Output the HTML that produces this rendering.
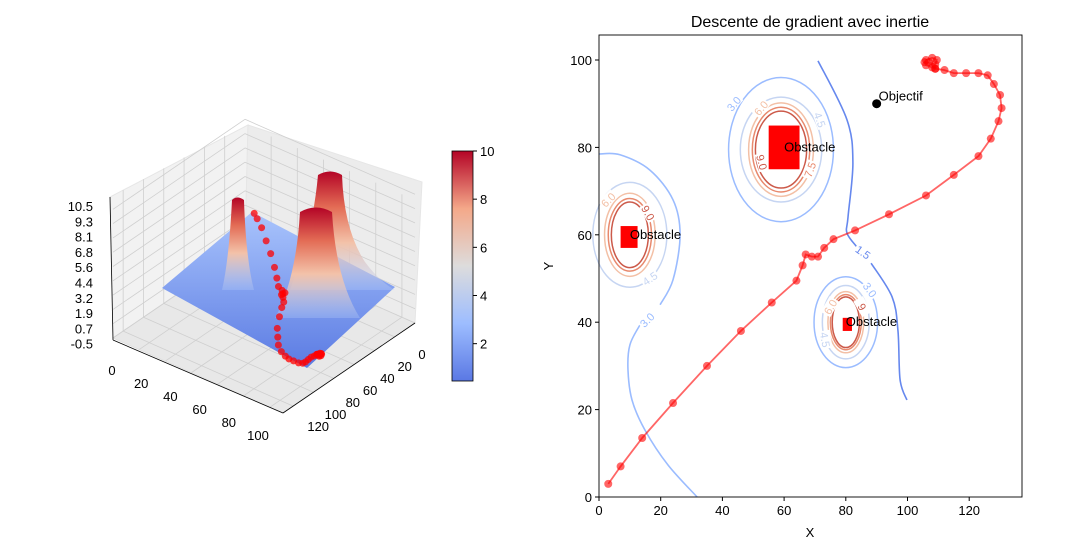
<!DOCTYPE html>
<html><head><meta charset="utf-8"><style>
body{margin:0;background:#fff}
svg{display:block;font-family:"Liberation Sans","DejaVu Sans",sans-serif}
</style></head><body>
<svg id="s" width="1074" height="550" viewBox="0 0 1074 550" xmlns="http://www.w3.org/2000/svg">
<defs>
<linearGradient id="cw" x1="0" y1="1" x2="0" y2="0">
<stop offset="0" stop-color="#5a78e4"/><stop offset="0.25" stop-color="#9dbdff"/><stop offset="0.5" stop-color="#dddcdc"/><stop offset="0.75" stop-color="#f4a889"/><stop offset="1" stop-color="#b40426"/></linearGradient>
<linearGradient id="surf" x1="0" y1="0" x2="0" y2="1">
<stop offset="0" stop-color="#a9c4fc"/><stop offset="1" stop-color="#5b7be3"/></linearGradient>
<linearGradient id="peak" x1="0" y1="0" x2="0" y2="1">
<stop offset="0" stop-color="#b40426"/><stop offset="0.3" stop-color="#e36c55"/><stop offset="0.6" stop-color="#f3c2a9"/><stop offset="1" stop-color="#b8cff8" stop-opacity="0.3"/></linearGradient>
</defs>
<g id="left3d">
<polygon points="245,248 113,338 110,197 248,125" fill="#f2f2f2" stroke="#e6e6e6"/>
<polygon points="245,248 415,323 422,182 248,125" fill="#ececec" stroke="#e6e6e6"/>
<polygon points="245,248 113,338 283,413 415,323" fill="#e8e8e8" stroke="#e0e0e0"/>
<g id="grid3d" stroke="#cfcfcf" stroke-width="0.8" fill="none"></g>
<polygon points="252,212 162,288 307,368 395,287" fill="url(#surf)"/>
<path d="M222,290 Q229,260 232,200 Q237,195 244,200 Q246,260 254,290 Z" fill="url(#peak)"/>
<path d="M300,262 Q314,220 318,175 Q330,168 342,175 Q344,230 365,262 Q380,282 395,290 L290,290 Z" fill="url(#peak)"/>
<path d="M275,318 Q296,280 300,212 Q316,203 332,212 Q336,280 360,318 Z" fill="url(#peak)"/>
<g id="dots3d"></g>
<line x1="110" y1="197" x2="113" y2="340" stroke="#000" stroke-width="0.8"/>
<line x1="113" y1="340" x2="283" y2="413" stroke="#000" stroke-width="0.8"/>
<line x1="283" y1="413" x2="415" y2="323" stroke="#000" stroke-width="0.8"/>
<g id="ticks3d" font-size="13" fill="#000"></g>
<rect x="452" y="151" width="21" height="230" fill="url(#cw)" stroke="#000" stroke-width="0.8"/>
<g id="cbticks" font-size="13"></g>
</g>
<g id="right">
<text x="810" y="27" font-size="16" text-anchor="middle">Descente de gradient avec inertie</text>
<g id="plot"></g>
<rect x="599" y="35" width="423" height="462" fill="none" stroke="#000" stroke-width="0.9"/>
<g id="axes2" font-size="13"></g>
<text x="810" y="537" font-size="13" text-anchor="middle">X</text>
<text x="553" y="266" font-size="13" text-anchor="middle" transform="rotate(-90 553 266)">Y</text>
</g>
</svg>
<script>
const trajX=[3,7,14,24,35,46,56,64,66,67,69,71,73,76,83,94,106,115,123,127,129.5,130.5,130,128,126,123,119,115,112,109,108,106,105.5,106,108,109.5,109,107,109];
const trajY=[3,7,13.5,21.5,30,38,44.5,49.5,53,55.5,55,55,57,59,61,64.7,69,73.7,78,82,86,89,92,94.5,96.5,97,97,97,97.7,98,98.3,98.8,99.5,100,100.5,100,99,99.5,98];
const obstacleX=[55,7,79];const obstacleY=[75,57,38];const obstacleW=[10,5.5,3];const obstacleH=[10,5,3];
const obstacleLabelX=[60,10,80];const obstacleLabelY=[80,60,40];
const goalX=[90];const goalY=[90];
const ringCX=[59,59,59,59,59,10,10,10,10,80,80,80,80,80];
const ringCY=[79.5,79.5,79.5,79.5,79.5,60,60,60,60,40,40,40,40,40];
const ringRX=[17,13.2,10.5,9.3,8.3,12,8.2,7,6,10.3,7.6,5.8,5,4.4];
const ringRY=[16.5,12,10.7,9.7,8.8,12,9.5,8.3,7.5,10.4,8.4,7,6.3,5.8];
const ringLevel=[3,4.5,6,7.5,9,4.5,6,7.5,9,3,4.5,6,7.5,9];
const line15X=[71,80.4,82.3,80.7,80.4,83.6,null,88.2,95,96.9,97.6,99.8];
const line15Y=[99.8,86.3,76.4,64,60.4,57.2,null,53.5,45.8,38.2,26.8,22.2];
const line30X=[0,6.8,16.5,24,26.3,24,19.8,null,13.3,10,9.4,10.7,14.9,22.4,31.8];
const line30Y=[78.5,78.3,74.8,68,60,49.7,44,null,39.4,34.8,29,22.2,15.3,7.3,0];
const xTicks=[0,20,40,60,80,100,120];const yTicks=[0,20,40,60,80,100];
const zTickLabels=["10.5","9.3","8.1","6.8","5.6","4.4","3.2","1.9","0.7","-0.5"];
const x3Labels=["0","20","40","60","80","100","120"];
const y3Labels=["0","20","40","60","80","100"];
const cbTicks=[2,4,6,8,10];
const traj3Z=[2.2,2.2,2.2,2.1,2.1,2,2,2,2,2,2,2,2,1.9,1.9,1.9,1.8,1.8,1.8,1.7,1.7,1.7,1.7,1.6,1.6,1.6,1.6,1.6,1.6,1.6,1.6,1.6,1.6,1.6,1.6,1.6,1.6,1.6,1.6];
const clX=[43.7,52.5,71.6,52.8,68.4,3,15.9,16.5,15.6,87.8,85.3,75,73.3,85.6];
const clY=[90,89,86.3,76.6,74.9,68,65,50,40.5,47.4,43.5,43.5,36,56];
const clT=["3.0","6.0","4.5","9.0","7.5","6.0","9.0","4.5","3.0","3.0","9","6.0","4.5","1.5"];
const clC=[3,6,4.5,9,7.5,6,9,4.5,3,3,9,6,4.5,1.5];
const clR=[-50,-50,70,75,-70,-45,60,-35,-45,55,60,-60,80,35];
const NS="http://www.w3.org/2000/svg";
function mk(t,a,p){const e=document.createElementNS(NS,t);for(const k in a)e.setAttribute(k,a[k]);(p||document.getElementById('plot')).appendChild(e);return e;}
const sx=v=>599+v*3.085, sy=v=>497-v*4.37;
const colors={1.5:"#6688ee",3:"#9bbcff",4.5:"#c6d5f2",6:"#f3c0a6",7.5:"#e8896d",9:"#cc5a4a"};
for(let i=0;i<ringCX.length;i++){const e=mk('ellipse',{cx:sx(ringCX[i]),cy:sy(ringCY[i]),rx:ringRX[i]*3.085,ry:ringRY[i]*4.37,fill:'none',stroke:colors[ringLevel[i]],'stroke-width':1.5});

}
function smooth(pts){if(pts.length<2)return '';let d='M'+pts[0][0].toFixed(1)+','+pts[0][1].toFixed(1);
for(let i=0;i<pts.length-1;i++){const p0=pts[i-1]||pts[i],p1=pts[i],p2=pts[i+1],p3=pts[i+2]||p2;
const c1=[p1[0]+(p2[0]-p0[0])/6,p1[1]+(p2[1]-p0[1])/6],c2=[p2[0]-(p3[0]-p1[0])/6,p2[1]-(p3[1]-p1[1])/6];
d+='C'+c1.map(v=>v.toFixed(1))+' '+c2.map(v=>v.toFixed(1))+' '+p2.map(v=>v.toFixed(1));}return d;}
function poly(xs,ys,col,name){let segs=[[]];for(let i=0;i<xs.length;i++){if(xs[i]===null){segs.push([]);continue;}segs[segs.length-1].push([sx(xs[i]),sy(ys[i])]);}
const e=mk('path',{d:segs.map(smooth).join(''),fill:'none',stroke:col,'stroke-width':1.6});

}
poly(line15X,line15Y,colors[1.5],'contour-1.5');
poly(line30X,line30Y,colors[3],'contour-3.0');
for(let i=0;i<clX.length;i++){const X=sx(clX[i]),Y=sy(clY[i]);
const bg=mk('rect',{x:X-9,y:Y-6,width:18,height:11,fill:'#fff',transform:`rotate(${clR[i]} ${X} ${Y})`});


const t=mk('text',{x:X,y:Y+4,'font-size':11,fill:colors[clC[i]],'text-anchor':'middle',transform:`rotate(${clR[i]} ${X} ${Y})`});t.textContent=clT[i];

}
for(let i=0;i<obstacleX.length;i++){const r=mk('rect',{x:sx(obstacleX[i]),y:sy(obstacleY[i]+obstacleH[i]),width:obstacleW[i]*3.085,height:obstacleH[i]*4.37,fill:'#ff0000'});

}
let d='';for(let i=0;i<trajX.length;i++)d+=(i?'L':'M')+sx(trajX[i]).toFixed(1)+','+sy(trajY[i]).toFixed(1);
const tl=mk('path',{d:d,fill:'none',stroke:'rgba(255,0,0,0.6)','stroke-width':1.8});


for(let i=0;i<trajX.length;i++){const c=mk('circle',{cx:sx(trajX[i]),cy:sy(trajY[i]),r:4,fill:'rgba(255,0,0,0.6)'});

}
for(let i=0;i<obstacleX.length;i++){const t=mk('text',{x:sx(obstacleLabelX[i]),y:sy(obstacleLabelY[i])+4,'font-size':13});t.textContent='Obstacle';

}
const g=mk('circle',{cx:sx(goalX[0]),cy:sy(goalY[0]),r:4.5,fill:'#000'});


const gt=mk('text',{x:sx(goalX[0])+2,y:sy(goalY[0])-3,'font-size':13});gt.textContent='Objectif';


const ax=document.getElementById('axes2');
xTicks.forEach(v=>{mk('line',{x1:sx(v),x2:sx(v),y1:497,y2:501,stroke:'#000'},ax);const t=mk('text',{x:sx(v),y:515,'text-anchor':'middle'},ax);t.textContent=v;

});
yTicks.forEach(v=>{mk('line',{x1:595,x2:599,y1:sy(v),y2:sy(v),stroke:'#000'},ax);const t=mk('text',{x:592,y:sy(v)+5,'text-anchor':'end'},ax);t.textContent=v;

});
const gr=document.getElementById('grid3d');
const B=[245,248],L=[113,338],R=[415,323],H=-123;
for(let k=1;k<=6;k++){const f=k/6.5;
const pl=[B[0]+(L[0]-B[0])*f,B[1]+(L[1]-B[1])*f];mk('line',{x1:pl[0],y1:pl[1],x2:pl[0],y2:pl[1]+H+(k*-3)},gr);
const pr=[B[0]+(R[0]-B[0])*f,B[1]+(R[1]-B[1])*f];mk('line',{x1:pr[0],y1:pr[1],x2:pr[0],y2:pr[1]+H},gr);
mk('line',{x1:pl[0],y1:pl[1],x2:pl[0]+(R[0]-B[0]),y2:pl[1]+(R[1]-B[1])},gr);
mk('line',{x1:pr[0],y1:pr[1],x2:pr[0]+(L[0]-B[0]),y2:pr[1]+(L[1]-B[1])},gr);}
for(let k=0;k<10;k++){const dy=-k*14.3;mk('line',{x1:B[0],y1:B[1]+dy,x2:L[0],y2:L[1]+dy},gr);mk('line',{x1:B[0],y1:B[1]+dy,x2:R[0],y2:R[1]+dy},gr);}
function p3(X,Y,Z){return[252+X/130*(-90)+Y/100*143,212+X/130*76+Y/100*75-(Z-2)*13];}
const dg=document.getElementById('dots3d');
for(let i=0;i<trajX.length;i++){const p=p3(trajX[i],trajY[i],traj3Z[i]);const c=mk('circle',{cx:p[0],cy:p[1],r:3.5,fill:'rgba(255,0,0,0.75)'},dg);

}
const tg=document.getElementById('ticks3d');
zTickLabels.forEach((s,i)=>{const t=mk('text',{x:93,y:211+i*15.3,'text-anchor':'end'},tg);t.textContent=s;

});
y3Labels.forEach((s,i)=>{const t=mk('text',{x:112+i*29.2,y:375+i*13,'text-anchor':'middle'},tg);t.textContent=s;

});
x3Labels.forEach((s,i)=>{const t=mk('text',{x:422-i*17.3,y:359+i*12,'text-anchor':'middle'},tg);t.textContent=s;

});
const cg=document.getElementById('cbticks');
cbTicks.forEach(v=>{const y=381-(v-0.45)/(10-0.45)*230;mk('line',{x1:473,x2:477,y1:y,y2:y,stroke:'#000'},cg);const t=mk('text',{x:480,y:y+5},cg);t.textContent=v;

});
</script>
</body></html>
